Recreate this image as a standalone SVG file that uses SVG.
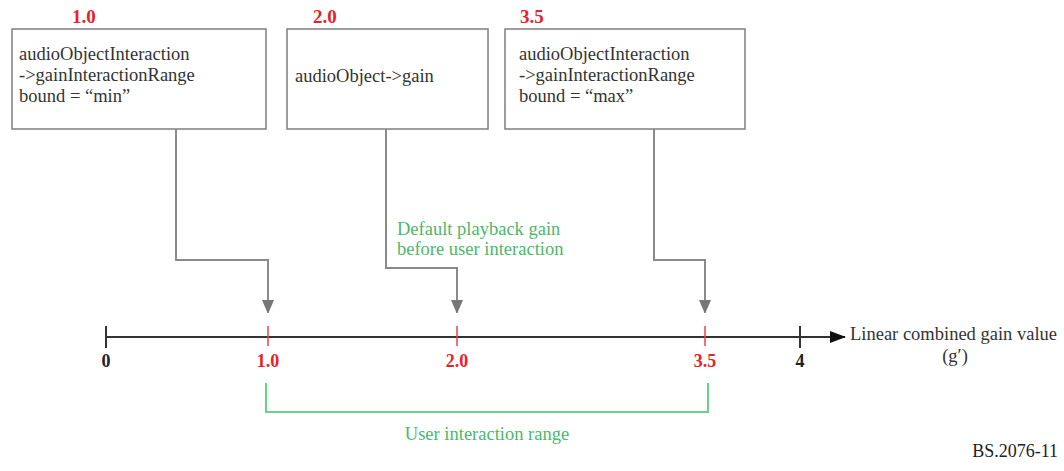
<svg xmlns="http://www.w3.org/2000/svg" width="1064" height="471" viewBox="0 0 1064 471">
<defs>
<style>
.box{fill:#fff;stroke:#7f7f7f;stroke-width:1.5}
.t{font-family:"Liberation Serif",serif;font-size:18.5px;fill:#333}
.red{font-family:"Liberation Serif",serif;font-size:19px;font-weight:bold;fill:#e8202a}
.red2{font-family:"Liberation Serif",serif;font-size:18px;font-weight:bold;fill:#e8202a}
.blk{font-family:"Liberation Serif",serif;font-size:18px;font-weight:bold;fill:#222}
.g{font-family:"Liberation Serif",serif;font-size:18.5px;fill:#4cb86a}
.conn{fill:none;stroke:#8a8a8a;stroke-width:2}
</style>
<marker id="ah" markerWidth="12" markerHeight="14" refX="13" refY="6" orient="auto" markerUnits="userSpaceOnUse">
<path d="M0,0 L14,6 L0,12 z" fill="#777"/>
</marker>
<marker id="axh" markerWidth="16" markerHeight="12" refX="15" refY="6" orient="auto" markerUnits="userSpaceOnUse">
<path d="M0,0 L16,6 L0,12 z" fill="#111"/>
</marker>
</defs>
<rect width="1064" height="471" fill="#fff"/>
<g id="node-min">
<text class="red" x="72" y="23">1.0</text>
<rect class="box" x="12" y="29" width="254" height="100"/>
<text class="t" x="19" y="60">audioObjectInteraction</text>
<text class="t" x="19" y="81">-&gt;gainInteractionRange</text>
<text class="t" x="19" y="102">bound = “min”</text>
</g>
<g id="node-gain">
<text class="red" x="313" y="23">2.0</text>
<rect class="box" x="287" y="29" width="201" height="100"/>
<text class="t" x="295" y="82">audioObject-&gt;gain</text>
</g>
<g id="node-max">
<text class="red" x="520" y="23">3.5</text>
<rect class="box" x="505" y="29" width="240" height="100"/>
<text class="t" x="519" y="60">audioObjectInteraction</text>
<text class="t" x="519" y="81">-&gt;gainInteractionRange</text>
<text class="t" x="519" y="102">bound = “max”</text>
</g>
<g id="connectors">
<path class="conn" d="M176,129 V260 H268 V313" marker-end="url(#ah)"/>
<path class="conn" d="M386,129 V268 H457 V313" marker-end="url(#ah)"/>
<path class="conn" d="M654,129 V260 H705 V313" marker-end="url(#ah)"/>
</g>
<g id="axis">
<line x1="106" y1="337" x2="845" y2="337" stroke="#333" stroke-width="2" marker-end="url(#axh)"/>
<line x1="106" y1="326" x2="106" y2="348" stroke="#333" stroke-width="2"/>
<line x1="800" y1="326" x2="800" y2="348" stroke="#333" stroke-width="2"/>
<line x1="268" y1="326" x2="268" y2="346" stroke="#f0404a" stroke-width="1.5"/>
<line x1="457" y1="326" x2="457" y2="346" stroke="#f0404a" stroke-width="1.5"/>
<line x1="705" y1="326" x2="705" y2="346" stroke="#f0404a" stroke-width="1.5"/>
<text class="blk" x="106" y="367" text-anchor="middle">0</text>
<text class="red2" x="268" y="367" text-anchor="middle">1.0</text>
<text class="red2" x="457" y="367" text-anchor="middle">2.0</text>
<text class="red2" x="705" y="367" text-anchor="middle">3.5</text>
<text class="blk" x="800" y="367" text-anchor="middle">4</text>
<text class="t" x="850" y="340">Linear combined gain value</text>
<text class="t" x="955" y="362" text-anchor="middle">(g′)</text>
</g>
<g id="range">
<path d="M266,383 V412 H708 V383" fill="none" stroke="#6cd08a" stroke-width="2"/>
<text class="g" x="487" y="440" text-anchor="middle">User interaction range</text>
<text class="g" x="397" y="235">Default playback gain</text>
<text class="g" x="397" y="255">before user interaction</text>
</g>
<text x="1058" y="457" text-anchor="end" style="font-family:'Liberation Serif',serif;font-size:18px;fill:#222">BS.2076-11</text>
</svg>
